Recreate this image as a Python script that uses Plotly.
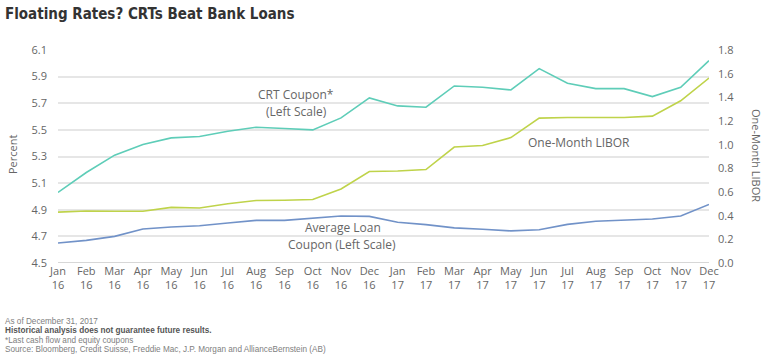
import plotly.graph_objects as go

months = ["Jan<br>16","Feb<br>16","Mar<br>16","Apr<br>16","May<br>16","Jun<br>16","Jul<br>16","Aug<br>16","Sep<br>16","Oct<br>16","Nov<br>16","Dec<br>16",
          "Jan<br>17","Feb<br>17","Mar<br>17","Apr<br>17","May<br>17","Jun<br>17","Jul<br>17","Aug<br>17","Sep<br>17","Oct<br>17","Nov<br>17","Dec<br>17"]
crt_coupon = [5.03, 5.18, 5.31, 5.39, 5.44, 5.45, 5.49, 5.52, 5.51, 5.50, 5.59, 5.74,
              5.68, 5.67, 5.83, 5.82, 5.80, 5.96, 5.85, 5.81, 5.81, 5.75, 5.82, 6.02]
avg_loan = [4.65, 4.67, 4.70, 4.756, 4.77, 4.78, 4.80, 4.82, 4.82, 4.838, 4.853, 4.85,
            4.806, 4.788, 4.764, 4.754, 4.741, 4.75, 4.79, 4.814, 4.82, 4.83, 4.853, 4.94]
libor = [0.43, 0.44, 0.437, 0.437, 0.47, 0.465, 0.50, 0.528, 0.53, 0.536, 0.626, 0.773,
         0.778, 0.79, 0.98, 0.993, 1.06, 1.224, 1.23, 1.23, 1.23, 1.241, 1.371, 1.563]
left_ticks = [4.5, 4.7, 4.9, 5.1, 5.3, 5.5, 5.7, 5.9, 6.1]
right_ticks = [0.0, 0.2, 0.4, 0.6, 0.8, 1.0, 1.2, 1.4, 1.6, 1.8]

x = list(range(len(months)))
FONT = "Open Sans"
TXT = "#666666"

W, H = 768, 358
L, R, T, B = 58, 59, 50, 95
PW, PH = W - L - R, H - T - B

def px(xp):
    return (xp - L) / PW

def py(yp):
    return (H - B - yp) / PH

fig = go.Figure()
fig.add_trace(go.Scatter(x=x, y=crt_coupon, mode="lines", line=dict(color="#5ECDB8", width=1.6), name="CRT Coupon"))
fig.add_trace(go.Scatter(x=x, y=avg_loan, mode="lines", line=dict(color="#7192C8", width=1.6), name="Average Loan Coupon"))
fig.add_trace(go.Scatter(x=x, y=libor, mode="lines", line=dict(color="#BFD34A", width=1.6), name="One-Month LIBOR", yaxis="y2"))

fig.update_layout(
    width=W, height=H,
    margin=dict(l=L, r=R, t=T, b=B, autoexpand=False),
    paper_bgcolor="white", plot_bgcolor="white",
    showlegend=False,
    font=dict(family=FONT, color=TXT, size=11),
    xaxis=dict(range=[0, 23], tickmode="array", tickvals=x, ticktext=months,
               showgrid=False, zeroline=False, showline=False, ticks="",
               tickfont=dict(size=11, color=TXT), automargin=False),
    yaxis=dict(range=[4.5, 6.1], tickmode="array", tickvals=left_ticks,
               ticktext=[f"{v:.1f}" for v in left_ticks],
               showgrid=True, gridcolor="#e6e6e6", gridwidth=1.5, zeroline=False,
               showline=False, ticks="", tickfont=dict(size=11, color=TXT),
               ticklabelstandoff=10, automargin=False),
    yaxis2=dict(range=[0, 1.8], overlaying="y", side="right", tickmode="array",
                tickvals=right_ticks, ticktext=[f"{v:.1f}" for v in right_ticks],
                showgrid=False, zeroline=False, showline=False, ticks="",
                tickfont=dict(size=11, color=TXT), ticklabelstandoff=8, automargin=False),
)

# bottom axis line (darker)
fig.add_shape(type="line", xref="paper", yref="y", x0=0, x1=1, y0=4.5, y1=4.5,
              line=dict(color="#b0b0b0", width=1.2))

def label(xp, yp, text, size=12, color=TXT, xanchor="center", family=FONT, **kw):
    fig.add_annotation(xref="paper", yref="paper", x=px(xp), y=py(yp), text=text,
                       showarrow=False, xanchor=xanchor, yanchor="middle",
                       font=dict(family=family, size=size, color=color), **kw)

label(3, 14, "<b>Floating Rates? CRTs Beat Bank Loans</b>", size=15, color="#333333",
      xanchor="left", family="DejaVu Sans Condensed")
label(296, 94, "CRT Coupon*")
label(296, 111, "(Left Scale)")
label(526, 142.5, "One-Month LIBOR", xanchor="left")
label(343, 227, "Average Loan")
label(342, 244, "Coupon (Left Scale)")
label(12, 155, "Percent", size=11, textangle=-90)
label(757, 156, "One-Month LIBOR", size=11, textangle=90)

foot = [
    ("As of December 31, 2017", 321, "#808080"),
    ("<b>Historical analysis does not guarantee future results.</b>", 330.5, "#555555"),
    ("*Last cash flow and equity coupons", 340, "#808080"),
    ("Source: Bloomberg, Credit Suisse, Freddie Mac, J.P. Morgan and AllianceBernstein (AB)", 349.5, "#808080"),
]
for txt, yy, col in foot:
    label(3, yy, txt, size=8.2, color=col, xanchor="left", family="Liberation Sans")

fig.write_html("out.html", config={"displayModeBar": False},
               post_script="document.body.style.margin='0';document.body.style.overflow='hidden';")
